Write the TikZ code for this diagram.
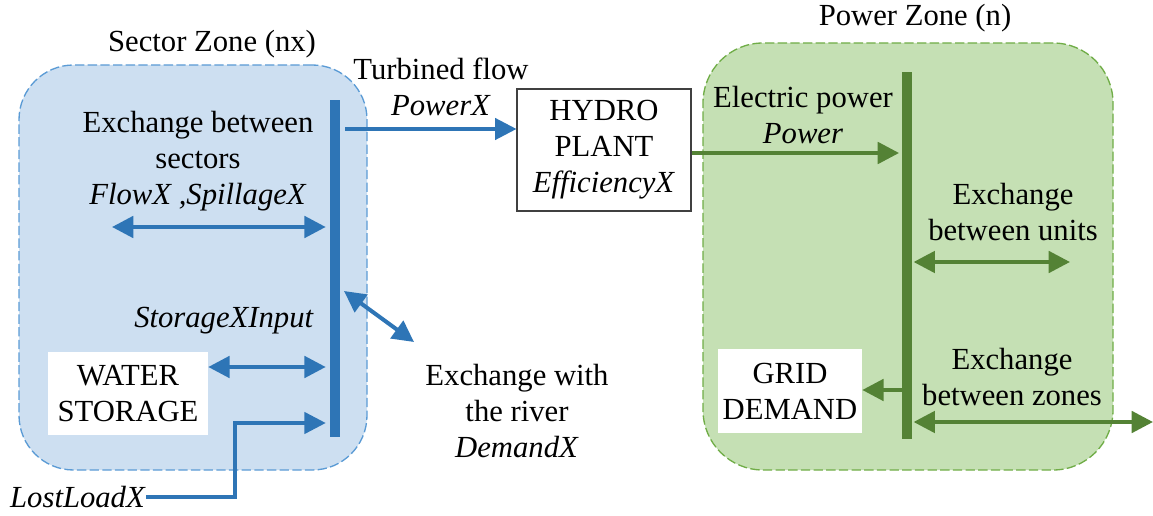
\documentclass[tikz,border=0pt]{standalone}
\usepackage{fontspec}
\setmainfont{Liberation Serif}
\usetikzlibrary{arrows.meta}
\definecolor{bfill}{HTML}{CDDFF1}
\definecolor{bline}{HTML}{2E75B6}
\definecolor{bdash}{HTML}{5B9BD5}
\definecolor{gfill}{HTML}{C5E0B4}
\definecolor{gline}{HTML}{548235}
\definecolor{gdash}{HTML}{70AD47}
\begin{document}
\begin{tikzpicture}[x=0.75pt,y=-0.75pt,
  lbl/.style={font=\fontsize{23}{27}\selectfont, align=center, inner sep=0pt},
  ba/.style={draw=bline, line width=2.6pt, -{Triangle[length=16pt,width=16pt]}},
  bda/.style={draw=bline, line width=3pt, {Triangle[length=16pt,width=16pt]}-{Triangle[length=16pt,width=16pt]}},
  ga/.style={draw=gline, line width=3pt, -{Triangle[length=16pt,width=16pt]}},
  gda/.style={draw=gline, line width=3pt, {Triangle[length=16pt,width=16pt]}-{Triangle[length=16pt,width=16pt]}},
  zoneb/.style={draw=bdash, dash pattern=on 7pt off 2.5pt, line width=1pt, fill=bfill, rounded corners=41pt},
  zoneg/.style={draw=gdash, dash pattern=on 7pt off 2.5pt, line width=1pt, fill=gfill, rounded corners=45pt},
  wbox/.style={lbl, fill=white, draw=none},
]
\useasboundingbox (0,0) rectangle (1153,516);

% zones
\node[zoneb, minimum width=261pt, minimum height=303.75pt, inner sep=0pt] (sz) at (193,267.5) {};
\node[zoneg, minimum width=307.5pt, minimum height=320.25pt, inner sep=0pt] (pz) at (908,256.5) {};
\node[lbl] (szt) at (212,44) {Sector Zone (nx)};
\node[lbl] (pzt) at (915,18) {Power Zone (n)};

% bars
\node[fill=bline, draw=none, minimum width=7.5pt, minimum height=252.75pt, inner sep=0pt] (bbar) at (335,268.5) {};
\node[fill=gline, draw=none, minimum width=7.5pt, minimum height=275.25pt, inner sep=0pt] (gbar) at (907,255.5) {};

% boxes
\node[lbl, draw=black!75, line width=0.8pt, fill=white, minimum width=130.5pt, minimum height=91.5pt] (hp) at (604,150) {HYDRO\\PLANT\\\textit{EfficiencyX}};
\node[wbox, minimum width=120pt, minimum height=62.25pt] (ws) at (128,393.5) {WATER\\STORAGE};
\node[wbox, minimum width=108pt, minimum height=63pt] (gd) at (790,391) {GRID\\DEMAND};

% labels
\node[lbl] (tfl) at (441,87) {Turbined flow\\\textit{PowerX}};
\node[lbl] (ebs) at (198,161) {Exchange between\\sectors\\\textit{FlowX ,SpillageX}};
\node[lbl] (sxi) at (224,321) {\textit{StorageXInput}};
\node[lbl] (ll) at (78,497) {\textit{LostLoadX}};
\node[lbl] (ewr) at (517,411) {Exchange with\\the river\\\textit{DemandX}};
\node[lbl] (elp) at (803,115) {Electric power\\\textit{Power}};
\node[lbl] (ebu) at (1013,212) {Exchange\\between units};
\node[lbl] (ebz) at (1012,377) {Exchange\\between zones};

% coordinates
\coordinate (tf) at (345,129);
\coordinate (fl) at (112,227);
\coordinate (st) at (ws.east |- 0,367);
\coordinate (llc) at (235,423);
\coordinate (rv1) at (344,291);
\coordinate (rv2) at (414,342);
\coordinate (ep) at (hp.east |- 0,153);
\coordinate (un) at (1070,262);
\coordinate (gdc) at (gbar.west |- 0,390);
\coordinate (zn) at (1153,422);

% blue connectors
\draw[ba, line width=2.4pt] (tf) -- (tf -| hp.west);
\draw[bda] (fl) -- ([xshift=-3pt]fl -| bbar.west);
\draw[bda] (st) -- ([xshift=-3pt]st -| bbar.west);
\draw[ba] (ll.east) -| (llc) -- ([xshift=-3pt]llc -| bbar.west);
\draw[bda] (rv1) -- (rv2);

% green connectors
\draw[ga] (ep) -- ([xshift=-2pt]ep -| gbar.west);
\draw[gda] ([xshift=1pt]un -| gbar.east) -- (un);
\draw[ga] (gdc) -- (gdc -| gd.east);
\draw[gda] ([xshift=1pt]zn -| gbar.east) -- (zn);
\end{tikzpicture}
\end{document}
